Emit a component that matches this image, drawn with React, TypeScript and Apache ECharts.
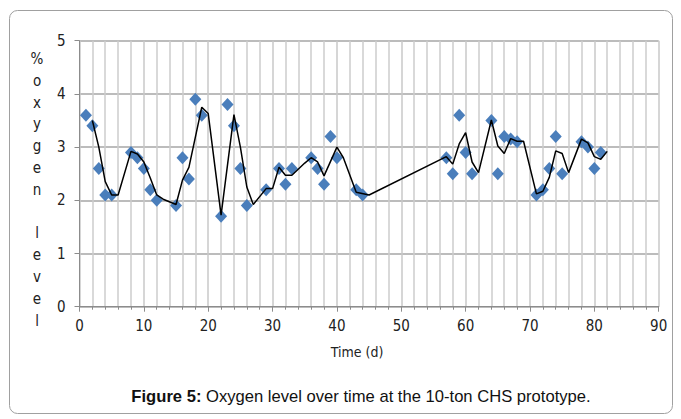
import React, { useEffect, useRef } from "react";
import * as echarts from "echarts";

// Measured diamonds (day, % oxygen)
const days = [1, 2, 3, 4, 5, 8, 9, 10, 11, 12, 15, 16, 17, 18, 19, 22, 23, 24, 25, 26, 29, 31, 32, 33, 36, 37, 38, 39, 40, 43, 44, 57, 58, 59, 60, 61, 64, 65, 66, 67, 68, 71, 72, 73, 74, 75, 78, 79, 80, 81];
const oxygen = [3.6, 3.4, 2.6, 2.1, 2.1, 2.9, 2.8, 2.6, 2.2, 2.0, 1.9, 2.8, 2.4, 3.9, 3.6, 1.7, 3.8, 3.4, 2.6, 1.9, 2.2, 2.6, 2.3, 2.6, 2.8, 2.6, 2.3, 3.2, 2.8, 2.2, 2.1, 2.8, 2.5, 3.6, 2.9, 2.5, 3.5, 2.5, 3.2, 3.15, 3.1, 2.1, 2.2, 2.6, 3.2, 2.5, 3.1, 3.0, 2.6, 2.9];

// Black trend line
const trendDays = [2, 3, 4, 5, 6, 8, 9, 10, 11, 12, 13, 15, 16, 17, 19, 20, 22, 24, 25, 26, 27, 29, 30, 31, 32, 33, 35, 36, 37, 38, 40, 41, 43, 45, 57, 58, 59, 60, 61, 62, 64, 65, 66, 67, 68, 69, 71, 72, 73, 74, 75, 76, 78, 79, 80, 81, 82];
const trendVals = [3.5, 3.0, 2.35, 2.1, 2.1, 2.92, 2.87, 2.72, 2.42, 2.1, 2.02, 1.92, 2.38, 2.62, 3.75, 3.63, 1.72, 3.61, 3.0, 2.25, 1.92, 2.22, 2.22, 2.62, 2.47, 2.47, 2.7, 2.8, 2.72, 2.46, 3.0, 2.8, 2.15, 2.1, 2.82, 2.68, 3.06, 3.27, 2.72, 2.52, 3.51, 3.02, 2.88, 3.16, 3.11, 3.11, 2.12, 2.17, 2.43, 2.93, 2.88, 2.52, 3.15, 3.08, 2.82, 2.77, 2.92];

const yAxisTitle = ["%", "o", "x", "y", "g", "e", "n", "", "l", "e", "v", "e", "l"];
const xAxisTitle = "Time (d)";
const captionBold = "Figure 5:";
const captionText = " Oxygen level over time at the 10-ton CHS prototype.";

const narrow = "'Liberation Sans Narrow', 'DejaVu Sans Condensed', 'Roboto Condensed', sans-serif";

export default function App() {
  const ref = useRef<HTMLDivElement>(null);
  useEffect(() => {
    document.body.style.margin = "0";
    const chart = echarts.init(ref.current!, undefined, { renderer: "svg" });
    chart.setOption({
      animation: false,
      backgroundColor: "#ffffff",
      grid: { left: 79.5, right: 22.3, top: 40.7, bottom: 112.3, containLabel: false },
      xAxis: {
        type: "value",
        min: 0,
        max: 90,
        interval: 10,
        axisLine: { show: true, lineStyle: { color: "#8c8c8c", width: 1 } },
        axisTick: { show: true, length: 5, lineStyle: { color: "#8c8c8c" } },
        minorTick: { show: true, splitNumber: 5, length: 3, lineStyle: { color: "#8c8c8c" } },
        axisLabel: { fontFamily: narrow, fontSize: 15, color: "#222", margin: 12 },
        splitLine: { show: true, lineStyle: { color: "#c8c8c8", width: 1.5 } },
        minorSplitLine: { show: true, lineStyle: { color: "#cccccc", width: 1.5 } },
      },
      yAxis: {
        type: "value",
        min: 0,
        max: 5,
        interval: 1,
        axisLine: { show: true, lineStyle: { color: "#8c8c8c", width: 1 } },
        axisTick: { show: true, length: 5, lineStyle: { color: "#8c8c8c" } },
        axisLabel: { fontFamily: narrow, fontSize: 15, color: "#222", margin: 14 },
        splitLine: { show: true, lineStyle: { color: "#a6a6a6", width: 1.5 } },
      },
      series: [
        {
          type: "scatter",
          symbol: "diamond",
          symbolSize: [12, 13],
          itemStyle: { color: "#4a7ebb", opacity: 1 },
          data: days.map((d, i) => [d, oxygen[i]]),
          z: 2,
        },
        {
          type: "line",
          showSymbol: false,
          symbol: "none",
          lineStyle: { color: "#000000", width: 1.5 },
          data: trendDays.map((d, i) => [d, trendVals[i]]),
          z: 3,
        },
      ],
      graphic: [
        {
          type: "rect",
          shape: { x: 9.5, y: 10.5, width: 663, height: 403, r: 8 },
          style: { fill: "none", stroke: "#a0a0a0", lineWidth: 1 },
          silent: true,
          z: -10,
        },
        {
          type: "text",
          x: 37,
          y: 48,
          style: {
            text: yAxisTitle.join("\n"),
            fontFamily: narrow,
            fontSize: 15,
            lineHeight: 21.8,
            fill: "#222",
            align: "center",
            verticalAlign: "top",
          },
        },
        {
          type: "text",
          x: 357,
          y: 352,
          style: {
            text: xAxisTitle,
            fontFamily: narrow,
            fontSize: 14,
            fill: "#222",
            align: "center",
            verticalAlign: "middle",
          },
        },
        {
          type: "text",
          x: 361,
          y: 396,
          style: {
            text: "{b|" + captionBold + "}" + captionText,
            fontFamily: "'Liberation Sans', Arial, sans-serif",
            fontSize: 16.6,
            fill: "#111",
            align: "center",
            verticalAlign: "middle",
            rich: {
              b: { fontFamily: "'Liberation Sans', Arial, sans-serif", fontSize: 16.6, fontWeight: "bold", fill: "#111" },
            },
          },
        },
      ],
    });
    return () => chart.dispose();
  }, []);
  return <div ref={ref} style={{ position: "fixed", left: 0, top: 0, width: 681, height: 419 }} />;
}
